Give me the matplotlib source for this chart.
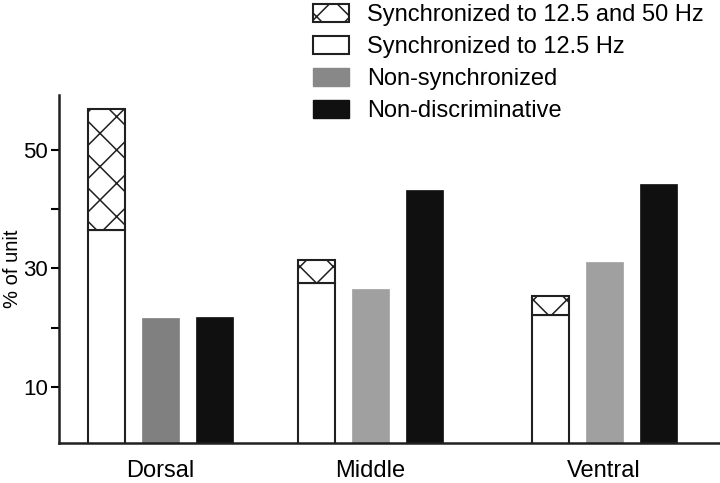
import matplotlib
matplotlib.use("Agg")
import matplotlib.pyplot as plt
from matplotlib.patches import Patch

plt.rcParams['font.family'] = ['Liberation Sans', 'DejaVu Sans']
plt.rcParams['hatch.linewidth'] = 1.1

# ---- data ----
categories = ['Dorsal', 'Middle', 'Ventral']
sync_12_5 = [36.5, 27.5, 22.2]          # Synchronized to 12.5 Hz
sync_both_extra = [20.5, 4.0, 3.2]      # Synchronized to 12.5 and 50 Hz (stacked on top)
non_sync = [21.6, 26.6, 31.1]           # Non-synchronized
non_disc = [21.8, 43.3, 44.2]           # Non-discriminative
yticks_major = [10, 30, 50]
yticks_minor = [20, 40]

# ---- layout ----
group_centers = [160, 370, 604]
offset = 54
width = 37
gray_colors = ['#808080', '#a0a0a0', '#a0a0a0']

fig = plt.figure(figsize=(7.2, 4.83), dpi=100)
ax = fig.add_axes([59/720, 40/483, 1 - 59/720, (443-95)/483])

xw = [c - offset for c in group_centers]
xg = list(group_centers)
xb = [c + offset for c in group_centers]

ax.bar(xw, sync_12_5, width=width, color='white', edgecolor='#202020', linewidth=1.5)
ax.bar(xw, sync_both_extra, bottom=sync_12_5, width=width, color='white',
       edgecolor='#202020', linewidth=1.5, hatch='x')
ax.bar(xg, non_sync, width=width, color=gray_colors, edgecolor=gray_colors, linewidth=0.5)
ax.bar(xb, non_disc, width=width, color='#101010', edgecolor='#101010', linewidth=0.5)

ax.set_xlim(59, 720)
ax.set_ylim(0.5, 59.3)
ax.set_xticks(group_centers)
ax.set_xticklabels(categories, fontsize=17)
ax.tick_params(axis='x', length=0, pad=12)
ax.set_yticks(yticks_major)
ax.set_yticks(yticks_minor, minor=True)
ax.tick_params(axis='y', which='both', direction='out', length=6, width=1.5, labelsize=16, pad=2)
ax.set_ylabel('% of unit', fontsize=14.5)
ax.yaxis.set_label_coords(-0.0565, 0.5)

for s in ['top', 'right']:
    ax.spines[s].set_visible(False)
for s in ['left', 'bottom']:
    ax.spines[s].set_linewidth(1.8)
    ax.spines[s].set_color('#202020')

handles = [
    Patch(facecolor='white', edgecolor='#202020', hatch='x', linewidth=1.5),
    Patch(facecolor='white', edgecolor='#202020', linewidth=1.5),
    Patch(facecolor='#888888', edgecolor='#888888'),
    Patch(facecolor='#101010', edgecolor='#101010'),
]
labels = ['Synchronized to 12.5 and 50 Hz', 'Synchronized to 12.5 Hz',
          'Non-synchronized', 'Non-discriminative']
fig.legend(handles, labels, loc='upper left', bbox_to_anchor=(309/720, 1 - 0/483),
           frameon=False, fontsize=17, handlelength=1.55, handleheight=0.8,
           handletextpad=0.75, labelspacing=0.42, borderaxespad=0, borderpad=0.15)

fig.savefig('out.png', dpi=100)
